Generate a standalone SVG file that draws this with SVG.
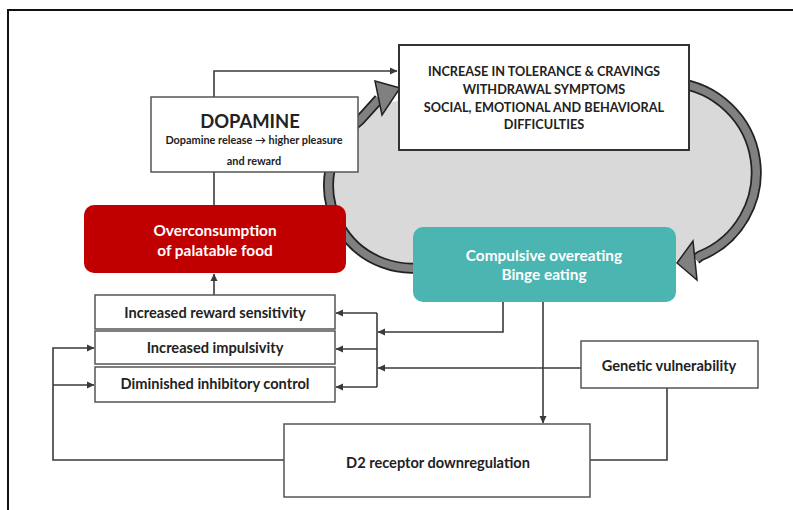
<svg xmlns="http://www.w3.org/2000/svg" width="793" height="510" viewBox="0 0 793 510">
<style>
text{font-family:Lato,"Open Sans","Liberation Sans",sans-serif;font-weight:bold;text-anchor:middle;}
.box{fill:#fff;stroke:#555;stroke-width:1.5;}
.dk{fill:#222;}
.wt{fill:#fff;}
.conn{fill:none;stroke:#3a3a3a;stroke-width:1.6;}
.bandO{fill:none;stroke:#222;stroke-width:11;}
.bandI{fill:none;stroke:#808080;stroke-width:7.5;}
.head{fill:#808080;stroke:#222;stroke-width:1.5;stroke-linejoin:miter;}
.t14{font-size:14.6px;}
.t15{font-size:15.4px;}
.tc{font-size:12.7px;}
</style>
<defs>
<marker id="ar" markerWidth="8" markerHeight="8" refX="7" refY="4" orient="auto" markerUnits="userSpaceOnUse">
<path d="M0,0.5 L7.5,4 L0,7.5 Z" fill="#3a3a3a"/>
</marker>
</defs>
<rect width="793" height="510" fill="#fff"/>
<path d="M8,512 L8,10 L795,10" fill="none" stroke="#111" stroke-width="2"/>

<g id="cycle">
<path d="M415,265 A83 83 0 1 1 415,99 L664,82 A90 90 0 0 1 664,262 Z" fill="#d9d9d9"/>
<path class="bandO" d="M440,263 A83 83 0 0 1 360,120 L379,99"/>
<path class="bandI" d="M440,263 A83 83 0 0 1 360,120 L379,99"/>
<path class="bandO" d="M675,83 A90 90 0 0 1 700,256 L696,259"/>
<path class="bandI" d="M675,83 A90 90 0 0 1 700,256 L696,259"/>
<polygon class="head" points="375,81 400,88 382,115"/>
<polygon class="head" points="693,241 677,263 697,280"/>
</g>

<g id="connectors">
<path class="conn" d="M214,97 L214,71 L397,71" marker-end="url(#ar)"/>
<path class="conn" d="M214,172 L214,205"/>
<path class="conn" d="M214,295 L214,274" marker-end="url(#ar)"/>
<path class="conn" d="M503,302 L503,332 L378,332" marker-end="url(#ar)"/>
<path class="conn" d="M581,368 L378,368" marker-end="url(#ar)"/>
<path class="conn" d="M377,313 L377,387"/>
<path class="conn" d="M377,313 L336,313" marker-end="url(#ar)"/>
<path class="conn" d="M377,349 L336,349" marker-end="url(#ar)"/>
<path class="conn" d="M377,387 L336,387" marker-end="url(#ar)"/>
<path class="conn" d="M543,302 L543,423" marker-end="url(#ar)"/>
<path class="conn" d="M667,388 L667,460 L590,460"/>
<path class="conn" d="M284,460 L53,460 L53,348 L94,348" marker-end="url(#ar)"/>
<path class="conn" d="M53,385 L94,385" marker-end="url(#ar)"/>
</g>

<g id="top-box">
<rect x="399" y="45" width="290" height="105" fill="#fff" stroke="#333" stroke-width="2"/>
<text class="dk tc" x="544" y="76">INCREASE IN TOLERANCE &amp; CRAVINGS</text>
<text class="dk tc" x="544" y="94">WITHDRAWAL SYMPTOMS</text>
<text class="dk tc" x="544" y="112">SOCIAL, EMOTIONAL AND BEHAVIORAL</text>
<text class="dk tc" x="544" y="129">DIFFICULTIES</text>
</g>

<g id="dopamine">
<rect class="box" x="151" y="97" width="207" height="75"/>
<text class="dk" x="250" y="128" font-size="18.4">DOPAMINE</text>
<text class="dk" x="254" y="144" font-size="10.9">Dopamine release → higher pleasure</text>
<text class="dk" x="254" y="165" font-size="10.9">and reward</text>
</g>

<g id="overconsumption">
<rect x="84" y="205" width="262" height="68" rx="10" fill="#c00000"/>
<text class="wt t15" x="215" y="236">Overconsumption</text>
<text class="wt t15" x="215" y="256">of palatable food</text>
</g>

<g id="compulsive">
<rect x="413" y="227" width="263" height="75" rx="10" fill="#4bb5b2"/>
<text class="wt t15" x="544" y="261">Compulsive overeating</text>
<text class="wt t15" x="544" y="280">Binge eating</text>
</g>

<g id="reward">
<rect class="box" x="95" y="295" width="240" height="34"/>
<text class="dk t14" x="215" y="318">Increased reward sensitivity</text>
</g>
<g id="impulsivity">
<rect class="box" x="95" y="331" width="240" height="33"/>
<text class="dk t14" x="215" y="353">Increased impulsivity</text>
</g>
<g id="inhibitory">
<rect class="box" x="95" y="367" width="240" height="35"/>
<text class="dk t14" x="215" y="389">Diminished inhibitory control</text>
</g>

<g id="genetic">
<rect class="box" x="581" y="341" width="177" height="47"/>
<text class="dk t14" x="669" y="371">Genetic vulnerability</text>
</g>

<g id="d2">
<rect class="box" x="284" y="424" width="306" height="73"/>
<text class="dk t14" x="438" y="468">D2 receptor downregulation</text>
</g>
</svg>
